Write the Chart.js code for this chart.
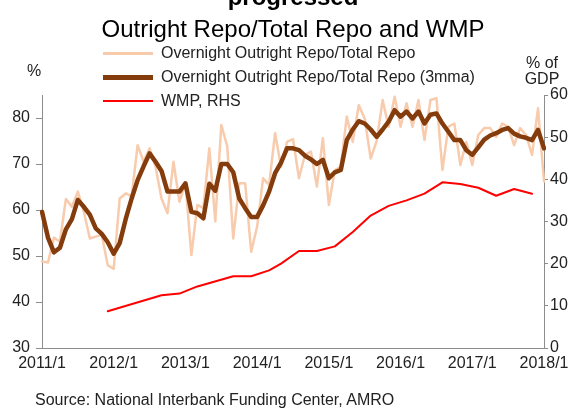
<!DOCTYPE html>
<html>
<head>
<meta charset="utf-8">
<script src="https://cdn.jsdelivr.net/npm/chart.js@4.4.1/dist/chart.umd.min.js"></script>
<style>
  body { margin: 0; background: #fff; }
  #wrap { position: relative; width: 576px; height: 408px; overflow: hidden; font-family: "Liberation Sans", Arial, sans-serif; color: #000; }
  #wrap canvas { position: absolute; left: 0; top: 0; }
  .txt { position: absolute; white-space: nowrap; line-height: 1; }
  .title { font-size: 24px; left: 0; width: 586px; text-align: center; }
  .legend-row { position: absolute; left: 103px; height: 16px; font-size: 16px; line-height: 16px; white-space: nowrap; color: #222; }
  .legend-row .swatch { position: absolute; left: 0; width: 50px; }
  .legend-row .label { position: absolute; left: 58px; top: 0; }
  .unit { font-size: 16px; color: #222; }
</style>
</head>
<body>
<div id="wrap">
  <canvas id="repoChart" width="576" height="408"></canvas>
  <div class="txt title" style="top:-15px; font-weight:bold;">progressed</div>
  <div class="txt title" style="top:17px;">Outright Repo/Total Repo and WMP</div>

  <div class="legend-row" style="top:45px;">
    <div class="swatch" style="top:7px; height:3px; background:#f8cbad;"></div>
    <span class="label">Overnight Outright Repo/Total Repo</span>
  </div>
  <div class="legend-row" style="top:69px;">
    <div class="swatch" style="top:6px; height:5px; background:#843c0c;"></div>
    <span class="label">Overnight Outright Repo/Total Repo (3mma)</span>
  </div>
  <div class="legend-row" style="top:93px;">
    <div class="swatch" style="top:7px; height:2px; background:#ff0000;"></div>
    <span class="label">WMP, RHS</span>
  </div>

  <div class="txt unit" style="left:27px; top:63px;">%</div>
  <div class="txt unit" style="left:512px; top:55px; width:60px; text-align:center; line-height:16px;">% of<br>GDP</div>

  <div class="txt" style="left:35px; top:392px; font-size:16px; color:#222;">Source: National Interbank Funding Center, AMRO</div>
</div>

<script>
// monthly categories 2011/1 .. 2018/1
const monthLabels = [];
for (let y = 2011; y <= 2018; y++) {
    for (let m = 1; m <= 12; m++) {
        if (y === 2018 && m > 1) break;
        monthLabels.push(y + '/' + m);
    }
}

const yearTicks = ['2011/1', '2012/1', '2013/1', '2014/1', '2015/1', '2016/1', '2017/1', '2018/1'];

// overnight outright repo / total repo, %
const repoRatio = [
    48.8, 48.6, 54.0, 53.1, 62.4, 60.7, 64.0, 59.6, 53.8, 54.2, 54.6, 48.0,
    47.2, 62.5, 63.6, 63.0, 74.1, 70.5, 73.4, 69.4, 62.5, 59.3, 70.5, 61.8,
    65.8, 50.2, 61.1, 60.4, 73.4, 57.5, 78.5, 73.8, 53.8, 65.8, 65.8, 50.9,
    56.4, 66.9, 65.4, 76.7, 69.4, 74.8, 75.4, 66.9, 72.0, 72.7, 65.1, 75.6,
    61.1, 68.7, 69.4, 80.3, 74.8, 82.8, 79.9, 71.2, 75.0, 83.9, 78.1, 84.6,
    78.1, 83.2, 78.1, 83.9, 75.2, 83.9, 84.3, 68.7, 78.1, 78.8, 69.8, 74.8,
    69.8, 76.3, 77.8, 77.8, 75.9, 78.8, 78.1, 74.1, 77.8, 76.3, 72.0, 82.1,
    66.2
];

// same ratio, 3-month moving average, %
const repoRatio3mma = [
    59.6, 54.0, 50.8, 51.8, 55.8, 58.0, 62.2, 60.7, 59.0, 56.0, 54.8, 53.0,
    50.5, 52.8, 58.0, 62.5, 66.5, 69.5, 72.3, 70.5, 68.5, 64.0, 64.0, 64.0,
    65.8, 59.6, 59.3, 58.2, 65.7, 64.2, 70.0, 70.0, 68.2, 62.5, 60.4, 58.5,
    58.5, 61.0, 64.0, 68.0, 70.3, 73.4, 73.4, 73.0, 71.8, 71.0, 70.0, 70.9,
    66.9, 68.2, 68.7, 75.2, 77.5, 79.3, 78.8, 77.5, 75.9, 77.5, 79.2, 81.7,
    80.3, 81.4, 79.9, 81.4, 78.8, 80.7, 81.0, 78.8, 77.0, 75.2, 75.2, 73.0,
    72.0, 73.6, 75.3, 76.2, 76.7, 77.4, 77.8, 76.6, 76.0, 75.7, 75.2, 77.4,
    73.4
];

// wealth management products, % of GDP (right axis)
const wmpDates = [
    '2011/12', '2012/9', '2012/12', '2013/3', '2013/9', '2013/12', '2014/3', '2014/5',
    '2014/8', '2014/11', '2015/2', '2015/5', '2015/8', '2015/11', '2016/2', '2016/5',
    '2016/8', '2016/11', '2017/2', '2017/5', '2017/8', '2017/11'
];
const wmpValues = [
    8.7, 12.5, 12.9, 14.6, 17.0, 17.0, 18.4, 20.0,
    23.0, 23.0, 24.1, 27.5, 31.4, 33.7, 35.0, 36.6,
    39.3, 38.9, 38.0, 36.1, 37.7, 36.6
];

const wmpSeries = monthLabels.map(label => {
    const i = wmpDates.indexOf(label);
    return i >= 0 ? wmpValues[i] : null;
});

const axisColor = '#8c8c8c';
const tickColor = '#222';

Chart.defaults.font.family = '"Liberation Sans", Arial, sans-serif';
Chart.defaults.font.size = 16;
Chart.defaults.color = tickColor;

const ctx = document.getElementById('repoChart');

new Chart(ctx, {
    type: 'line',
    data: {
        labels: monthLabels,
        datasets: [
            {
                label: 'Overnight Outright Repo/Total Repo (3mma)',
                data: repoRatio3mma,
                borderColor: '#843c0c',
                borderWidth: 4.5,
                yAxisID: 'y',
                order: 1
            },
            {
                label: 'Overnight Outright Repo/Total Repo',
                data: repoRatio,
                borderColor: '#f8cbad',
                borderWidth: 2.5,
                yAxisID: 'y',
                order: 3
            },
            {
                label: 'WMP, RHS',
                data: wmpSeries,
                borderColor: '#ff0000',
                borderWidth: 2,
                spanGaps: true,
                yAxisID: 'y2',
                order: 2
            }
        ]
    },
    options: {
        responsive: false,
        animation: false,
        elements: {
            point: { radius: 0, hoverRadius: 0 },
            line: { tension: 0, borderJoinStyle: 'round', borderCapStyle: 'round' }
        },
        layout: {
            padding: { top: 95, right: 0, bottom: 0, left: 0 }
        },
        plugins: {
            legend: { display: false },
            tooltip: { enabled: false }
        },
        scales: {
            x: {
                type: 'category',
                offset: false,
                grid: { display: false, drawTicks: false },
                border: { display: true, color: axisColor, width: 1 },
                ticks: {
                    autoSkip: false,
                    maxRotation: 0,
                    minRotation: 0,
                    padding: 6,
                    callback: function(value) {
                        const label = this.getLabelForValue(value);
                        return yearTicks.includes(label) ? label : '';
                    }
                },
                afterFit: scale => { scale.height = 60; }
            },
            y: {
                position: 'left',
                min: 30,
                max: 85,
                grid: { display: true, drawOnChartArea: false, drawTicks: true, tickLength: 6, color: axisColor },
                border: { display: true, color: axisColor, width: 1 },
                ticks: { stepSize: 10, padding: 6 },
                afterBuildTicks: scale => {
                    scale.ticks = scale.ticks.filter(t => t.value % 10 === 0);
                },
                afterFit: scale => { scale.width = 42; }
            },
            y2: {
                position: 'right',
                min: 0,
                max: 60,
                grid: { display: true, drawOnChartArea: false, drawTicks: true, tickLength: 4, color: axisColor },
                border: { display: true, color: axisColor, width: 1 },
                ticks: { stepSize: 10, padding: 2 },
                afterFit: scale => { scale.width = 32; }
            }
        }
    }
});
</script>
</body>
</html>
